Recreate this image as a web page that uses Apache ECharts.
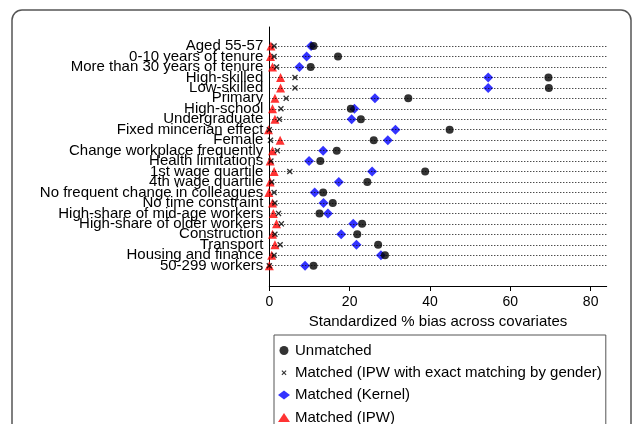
<!DOCTYPE html>
<html>
<head>
<meta charset="utf-8">
<script src="https://cdn.jsdelivr.net/npm/echarts@6/dist/echarts.min.js"></script>
<style>
html,body{margin:0;padding:0;background:#fff;}
#chart{width:632px;height:424px;}
</style>
</head>
<body>
<div id="chart"></div>
<script>
// ---- data ----
var categories = ['Aged 55-57','0-10 years of tenure','More than 30 years of tenure','High-skilled','Low-skilled','Primary','High-school','Undergraduate','Fixed mincerian effect','Female','Change workplace frequently','Health limitations','1st wage quartile','4th wage quartile','No frequent change in colleagues','No time constraint','High-share of mid-age workers','High-share of older workers','Construction','Transport','Housing and finance','50-299 workers'];
var unmatched = [11.0,17.1,10.3,69.5,69.6,34.6,20.3,22.8,44.9,26.0,16.8,12.7,38.8,24.4,13.4,15.8,12.5,23.1,21.9,27.1,28.8,11.0];
var ipwExact  = [1.2,1.2,1.8,6.4,6.4,4.2,2.9,2.5,0.0,0.3,2.0,0.4,5.1,0.6,1.2,1.4,2.3,3.0,1.4,2.7,1.2,0.0];
var kernel    = [10.4,9.3,7.5,54.5,54.5,26.3,21.2,20.5,31.4,29.5,13.4,9.9,25.6,17.3,11.3,13.5,14.6,20.9,17.9,21.7,27.8,8.9];
var ipw       = [0.4,0.3,0.8,2.8,2.8,1.4,0.8,1.4,-0.2,2.7,0.8,0.2,1.2,0.2,-0.1,0.8,1.0,1.8,0.8,1.4,0.6,0.0];
var xTicks = [0,20,40,60,80];
var seriesNames = ['Unmatched','Matched (IPW with exact matching by gender)','Matched (Kernel)','Matched (IPW)'];

var FONT = '"Liberation Sans", Arial, Helvetica, sans-serif';
var Y_MIN = -1.82, Y_MAX = 22.94;
var rowIdx = categories.map(function(c,i){return i;});
function pts(arr){ return arr.map(function(v,i){return [v,i];}); }
var crossPath = 'path://M0,1.6L1.6,0L5,3.4L8.4,0L10,1.6L6.6,5L10,8.4L8.4,10L5,6.6L1.6,10L0,8.4L3.4,5Z';
var crossIcon = 'path://M-4,-4L-4,-4ZM14,14L14,14ZM0,1.6L1.6,0L5,3.4L8.4,0L10,1.6L6.6,5L10,8.4L8.4,10L5,6.6L1.6,10L0,8.4L3.4,5Z';

var chart = echarts.init(document.getElementById('chart'), null, {renderer:'canvas'});
var option = {
  animation: false,
  backgroundColor: '#fff',
  textStyle: {fontFamily: FONT},
  graphic: [{
    type: 'rect', silent: true, z: 0,
    shape: {x: 12, y: 10, width: 619, height: 440, r: 10},
    style: {fill: 'none', stroke: '#555', lineWidth: 1.5}
  }],
  grid: {left: 269.3, right: 25.3, top: 27, height: 259, containLabel: false},
  xAxis: {
    type: 'value', min: 0, max: 84,
    name: 'Standardized % bias across covariates',
    nameLocation: 'middle', nameGap: 23,
    nameTextStyle: {fontSize: 15, color: '#000', fontFamily: FONT},
    axisLine: {show: true, onZero: false, lineStyle: {color: '#000', width: 1}},
    axisTick: {show: true, length: 5, lineStyle: {color: '#000'}, customValues: xTicks},
    axisLabel: {fontSize: 14, color: '#000', margin: 9, fontFamily: FONT, customValues: xTicks},
    splitLine: {show: false}
  },
  yAxis: {
    type: 'value', inverse: true, min: Y_MIN, max: Y_MAX,
    axisLine: {show: true, onZero: false, lineStyle: {color: '#000', width: 1}},
    axisTick: {show: false},
    splitLine: {show: false},
    axisLabel: {
      fontSize: 15, lineHeight: 9, color: '#000', margin: 6, fontFamily: FONT,
      hideOverlap: false,
      customValues: [Y_MIN].concat(rowIdx, [Y_MAX]),
      formatter: function(v){
        var i = Math.round(v);
        return (Math.abs(v - i) < 1e-6 && categories[i]) ? categories[i] : '';
      }
    }
  },
  legend: {
    orient: 'vertical', left: 274, top: 335, height: 200,
    padding: [8, 4, 8, 4],
    itemWidth: 12, itemHeight: 9, itemGap: 7.3,
    borderColor: '#555', borderWidth: 1,
    textStyle: {fontSize: 15, lineHeight: 14, color: '#000', fontFamily: FONT},
    data: [
      {name: seriesNames[0], icon: 'circle'},
      {name: seriesNames[1], icon: crossIcon},
      {name: seriesNames[2], icon: 'diamond'},
      {name: seriesNames[3], icon: 'triangle'}
    ]
  },
  series: [
    {
      type: 'line', name: 'rows', data: [], z: 1, silent: true,
      markLine: {
        silent: true, symbol: ['none','none'], animation: false,
        label: {show: false},
        lineStyle: {color: '#000', type: [1, 2], width: 1},
        data: rowIdx.map(function(i){ return {yAxis: i}; })
      }
    },
    {
      type: 'scatter', name: seriesNames[3], data: pts(ipw), z: 2, clip: false,
      symbol: 'triangle', symbolSize: 9, itemStyle: {color: '#ff0000'}
    },
    {
      type: 'scatter', name: seriesNames[2], data: pts(kernel), z: 3, clip: false,
      symbol: 'diamond', symbolSize: 10, itemStyle: {color: '#0000ff'}
    },
    {
      type: 'scatter', name: seriesNames[0], data: pts(unmatched), z: 4, clip: false,
      symbol: 'circle', symbolSize: 8, itemStyle: {color: '#000'}
    },
    {
      type: 'scatter', name: seriesNames[1], data: pts(ipwExact), z: 5, clip: false,
      symbol: crossPath, symbolSize: 6, itemStyle: {color: '#000'}
    }
  ]
};
chart.setOption(option);
</script>
</body>
</html>
